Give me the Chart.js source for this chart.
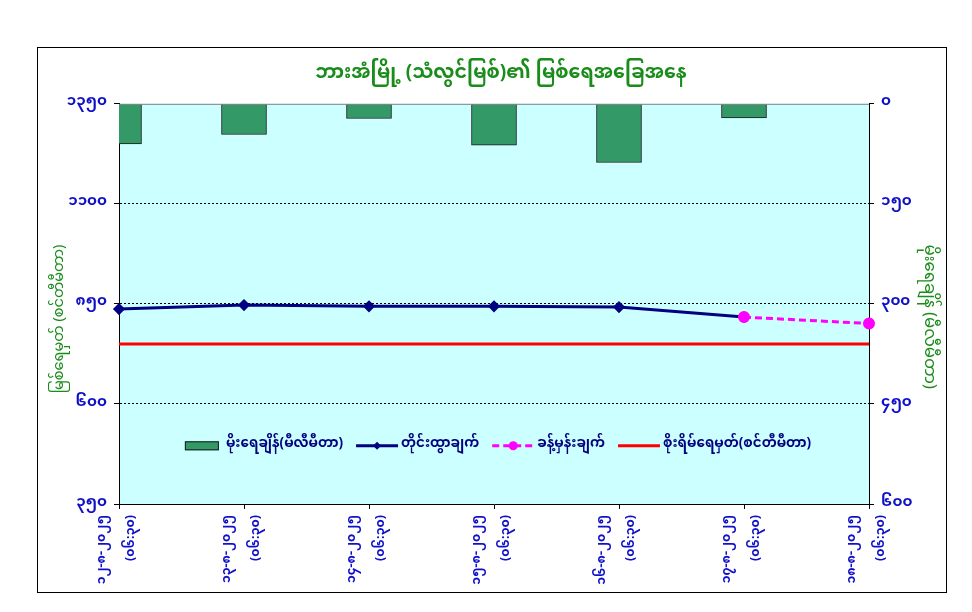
<!DOCTYPE html>
<html>
<head>
<meta charset="utf-8">
<script src="https://cdn.jsdelivr.net/npm/chart.js@4.4.1/dist/chart.umd.min.js"></script>
<style>
  html, body { margin: 0; padding: 0; background: #fff; }
  #wrap { width: 972px; height: 612px; }
</style>
</head>
<body>
<div id="wrap"><canvas id="chart" width="972" height="612"></canvas></div>
<script>
const MM_FONT = "'Noto Sans Myanmar', 'Myanmar Text', Padauk, 'Myanmar3', 'Noto Sans', sans-serif";

const categories = [
  ['၁၂-၈-၂၀၂၅', '(၀၆:၃၀)'],
  ['၁၃-၈-၂၀၂၅', '(၀၆:၃၀)'],
  ['၁၄-၈-၂၀၂၅', '(၀၆:၃၀)'],
  ['၁၅-၈-၂၀၂၅', '(၀၆:၃၀)'],
  ['၁၆-၈-၂၀၂၅', '(၀၆:၃၀)'],
  ['၁၇-၈-၂၀၂၅', '(၀၆:၃၀)'],
  ['၁၈-၈-၂၀၂၅', '(၀၆:၃၀)']
];

// rainfall (mm), right axis
const rainfall = [60, 46, 22, 62, 88, 21, null];
// observed water level (cm), left axis
const observed = [837, 847, 844, 844, 842, 817, null];
// forecast water level (cm)
const forecast = [null, null, null, null, null, 817, 801];
// danger level (cm)
const danger = [750, 750, 750, 750, 750, 750, 750];

const levelTickValues = [350, 600, 850, 1100, 1350];
const levelTicks = ['၃၅၀', '၆၀၀', '၈၅၀', '၁၁၀၀', '၁၃၅၀'];
const rainTickValues = [0, 150, 300, 450, 600];
const rainTicks = ['၀', '၁၅၀', '၃၀၀', '၄၅၀', '၆၀၀'];

const titleText = 'ဘားအံမြို့ (သံလွင်မြစ်)၏ မြစ်ရေအခြေအနေ';
const leftTitle = 'မြစ်ရေမှတ် (စင်တီမီတာ)';
const rightTitle = 'မိုးရေချိန် (မီလီမီတာ)';

const GREEN = '#1a8c1a';
const BLUE = '#1010c8';
const NBSP = '\u00a0';

// plot background, top line and outer frame
const framePlugin = {
  id: 'frame',
  beforeDraw(chart) {
    const { ctx, chartArea: a } = chart;
    ctx.save();
    ctx.fillStyle = '#ffffff';
    ctx.fillRect(0, 0, chart.width, chart.height);
    ctx.fillStyle = '#ccffff';
    ctx.fillRect(a.left, a.top, a.right - a.left, a.bottom - a.top);
    ctx.restore();
  },
  afterDraw(chart) {
    const { ctx, chartArea: a } = chart;
    ctx.save();
    ctx.strokeStyle = '#808080';
    ctx.lineWidth = 1;
    ctx.beginPath();
    ctx.moveTo(a.left, a.top + 0.5);
    ctx.lineTo(a.right, a.top + 0.5);
    ctx.stroke();
    ctx.strokeStyle = '#000';
    ctx.strokeRect(37.5, 47.5, 909, 545);
    ctx.restore();
  }
};

// legend drawn inside the plot area
const innerLegend = {
  id: 'innerLegend',
  afterDatasetsDraw(chart) {
    const { ctx, chartArea: a } = chart;
    const ds = chart.data.datasets;
    ctx.save();
    ctx.font = 'bold 13.5px ' + MM_FONT;
    ctx.textBaseline = 'middle';
    const sw = 42, gap = 3, itemGap = 13;
    const widths = ds.map(d => sw + gap + ctx.measureText(d.label).width);
    const total = widths.reduce((s, w) => s + w, 0) + itemGap * (ds.length - 1);
    let x = (a.left + a.right) / 2 - total / 2 + 2;
    const y = a.top + 342;
    ds.forEach((d, i) => {
      if (d.type === 'bar') {
        ctx.fillStyle = d.backgroundColor;
        ctx.strokeStyle = d.borderColor;
        ctx.lineWidth = 1;
        ctx.fillRect(x + 4, y - 4.5, 34, 9);
        ctx.strokeRect(x + 4.5, y - 4, 33, 8);
      } else {
        ctx.strokeStyle = d.borderColor;
        ctx.lineWidth = d.borderWidth;
        ctx.setLineDash(d.borderDash || []);
        ctx.beginPath();
        ctx.moveTo(x, y);
        ctx.lineTo(x + sw, y);
        ctx.stroke();
        ctx.setLineDash([]);
        if (d.pointRadius > 0) {
          ctx.fillStyle = d.pointBackgroundColor;
          ctx.beginPath();
          if (d.pointStyle === 'rectRot') {
            const r = d.pointRadius;
            ctx.moveTo(x + sw / 2, y - r);
            ctx.lineTo(x + sw / 2 + r, y);
            ctx.lineTo(x + sw / 2, y + r);
            ctx.lineTo(x + sw / 2 - r, y);
          } else {
            ctx.arc(x + sw / 2, y, d.pointRadius, 0, Math.PI * 2);
          }
          ctx.closePath();
          ctx.fill();
        }
      }
      ctx.fillStyle = '#000080';
      ctx.fillText(d.label, x + sw + gap, y);
      x += widths[i] + itemGap;
    });
    ctx.restore();
  }
};

new Chart(document.getElementById('chart'), {
  data: {
    labels: categories,
    datasets: [
      {
        type: 'bar',
        label: 'မိုးရေချိန်(မီလီမီတာ)',
        data: rainfall,
        yAxisID: 'y2',
        backgroundColor: '#339966',
        borderColor: '#1a1a1a',
        borderWidth: 1,
        barThickness: 45,
        order: 4
      },
      {
        type: 'line',
        label: 'တိုင်းထွာချက်',
        data: observed,
        yAxisID: 'y',
        borderColor: '#000080',
        backgroundColor: '#000080',
        pointBackgroundColor: '#000080',
        pointBorderColor: '#000080',
        borderWidth: 3,
        pointStyle: 'rectRot',
        pointRadius: 4,
        tension: 0,
        order: 2
      },
      {
        type: 'line',
        label: 'ခန့်မှန်းချက်',
        data: forecast,
        yAxisID: 'y',
        borderColor: '#ff00ff',
        backgroundColor: '#ff00ff',
        pointBackgroundColor: '#ff00ff',
        pointBorderColor: '#ff00ff',
        borderWidth: 3,
        borderDash: [7, 4],
        pointStyle: 'circle',
        pointRadius: 4.5,
        tension: 0,
        order: 1
      },
      {
        type: 'line',
        label: 'စိုးရိမ်ရေမှတ်(စင်တီမီတာ)',
        data: danger,
        yAxisID: 'y',
        borderColor: '#ff0000',
        backgroundColor: '#ff0000',
        borderWidth: 3,
        pointRadius: 0,
        tension: 0,
        order: 3
      }
    ]
  },
  options: {
    responsive: false,
    animation: false,
    layout: { padding: { top: 65, left: 40, right: 30, bottom: 20 } },
    plugins: {
      legend: { display: false },
      tooltip: { enabled: false },
      title: {
        display: true,
        text: NBSP.repeat(4) + titleText,
        color: GREEN,
        font: { family: MM_FONT, size: 19, weight: 'bold' },
        padding: { top: 0, bottom: 16 }
      }
    },
    scales: {
      x: {
        offset: false,
        grid: { offset: false, drawOnChartArea: false, drawTicks: true, tickLength: 5, tickColor: '#000' },
        border: { display: true, color: '#000', width: 1 },
        ticks: {
          color: BLUE,
          font: { family: MM_FONT, size: 12.5, weight: 'bold', lineHeight: 2.3 },
          minRotation: 90,
          maxRotation: 90,
          autoSkip: false,
          padding: 6,
          labelOffset: -15
        },
        afterFit(scale) { scale.height = 88; }
      },
      y: {
        position: 'left',
        min: 350,
        max: 1350,
        ticks: {
          stepSize: 250,
          color: BLUE,
          font: { family: MM_FONT, size: 15, weight: 'bold' },
          padding: 7,
          callback: v => levelTicks[levelTickValues.indexOf(v)]
        },
        grid: {
          color: c => (c.tick && (c.tick.value === 350 || c.tick.value === 1350)) ? 'rgba(0,0,0,0)' : '#000',
          tickColor: '#000',
          tickLength: 5,
          lineWidth: 1
        },
        border: { display: true, color: '#000', width: 1, dash: [2, 2] },
        title: {
          display: true,
          text: leftTitle + NBSP.repeat(8),
          color: GREEN,
          font: { family: MM_FONT, size: 14.5 },
          padding: { top: 13, bottom: 0 }
        },
        afterFit(scale) { scale.width = 79; }
      },
      y2: {
        position: 'right',
        reverse: true,
        min: 0,
        max: 600,
        ticks: {
          stepSize: 150,
          color: BLUE,
          font: { family: MM_FONT, size: 15, weight: 'bold' },
          padding: 7,
          callback: v => rainTicks[rainTickValues.indexOf(v)]
        },
        grid: { drawOnChartArea: false, tickColor: '#000', tickLength: 5 },
        border: { display: true, color: '#000', width: 1 },
        title: {
          display: true,
          text: NBSP.repeat(6) + rightTitle,
          color: GREEN,
          font: { family: MM_FONT, size: 16.5 },
          padding: { top: 5, bottom: 0 }
        },
        afterFit(scale) { scale.width = 73; }
      }
    }
  },
  plugins: [framePlugin, innerLegend]
});
</script>
</body>
</html>
